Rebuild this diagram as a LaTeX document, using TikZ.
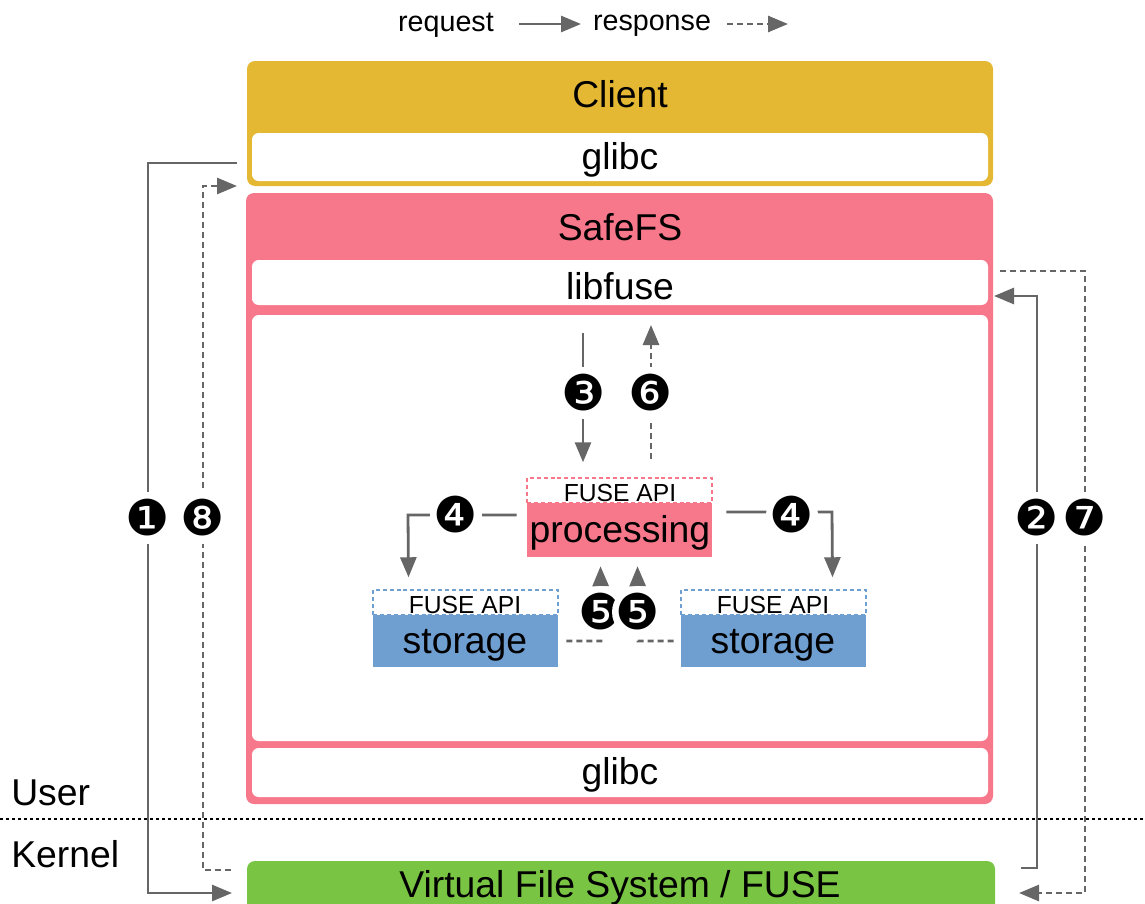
\documentclass[tikz,border=0pt]{standalone}
\usepackage{fontspec}
\setmainfont{Liberation Sans}
\newfontfamily\dingfont{DejaVu Sans}
\usetikzlibrary{arrows.meta,fit,calc}
\definecolor{gold}{HTML}{E4B832}
\definecolor{pinkc}{HTML}{F7788A}
\definecolor{greenc}{HTML}{7AC443}
\definecolor{bluec}{HTML}{6F9ED1}
\definecolor{arrowgray}{HTML}{666666}
\begin{document}
\begin{tikzpicture}[x=0.75pt,y=-0.75pt,
  panel/.style={draw=none, rounded corners=6pt, inner sep=0pt},
  whitebox/.style={panel, fill=white, rounded corners=5pt},
  big/.style={font=\fontsize{28}{32}\selectfont, inner sep=0pt},
  mid/.style={font=\fontsize{21.5}{25}\selectfont, inner sep=0pt},
  small/.style={font=\fontsize{18.5}{21}\selectfont, inner sep=0pt},
  apibox/.style={draw=#1, dash pattern=on 3pt off 2.2pt, line width=1.1pt, fill=white, inner sep=0pt},
  compbox/.style={fill=#1, draw=none, inner sep=0pt},
  req/.style={draw=arrowgray, line width=2.1pt, -{Triangle[length=15pt,width=12pt]}},
  resp/.style={req, dash pattern=on 4.5pt off 3pt},
  num/.style={font=\dingfont\fontsize{37}{40}\selectfont, fill=white, circle, inner sep=-1.5pt, text=black},
]
\useasboundingbox (0,0) rectangle (1145,903);

% legend
\node[mid] (lreq) at (446,25) {request};
\coordinate (lreqa) at (519,24);
\coordinate (lreqb) at (581,24);
\draw[req] (lreqa) -- (lreqb);
\node[mid] (lresp) at (652,26) {response};
\coordinate (lrespa) at (727,24);
\coordinate (lrespb) at (788,24);
\draw[resp] (lrespa) -- (lrespb);

% Client
\node[panel, fill=gold, fit={(247,61)(993,186)}] (client) {};
\node[whitebox, fit={(252,133)(988,181)}] (glibcTop) {};
\node[big] (clientL) at (620,94) {Client};
\node[big] (glibcTopL) at (620,160) {glibc};

% SafeFS
\node[panel, fill=pinkc, fit={(246,193)(993,804)}] (safefs) {};
\node[big] (safefsL) at (620,227) {SafeFS};
\node[whitebox, fit={(252,260)(988,305)}] (libfuse) {};
\node[big] (libfuseL) at (620,286) {libfuse};
\node[whitebox, fit={(252,315)(988,741)}] (inner) {};
\node[whitebox, fit={(252,748)(988,797)}] (glibcBot) {};
\node[big] (glibcBotL) at (620,775) {glibc};

% VFS
\node[panel, fill=greenc, fit={(247,861)(995,950)}] (vfs) {};
\node[big] (vfsL) at (620,888) {Virtual File System / FUSE};

% user / kernel
\coordinate (ukL) at (0,819);
\coordinate (ukR) at (1145,819);
\draw[black, line width=1.1pt, dash pattern=on 2.5pt off 2pt] (ukL) -- (ukR);
\node[big, anchor=west] (user) at (11,793) {User};
\node[big, anchor=west] (kernel) at (11,854) {Kernel};

% processing
\node[apibox=pinkc, fit={(527,478)(712,503)}] (papi) {};
\node[compbox=pinkc, fit={(527,503)(712,557)}] (proc) {};
\node[small] (papiL) at (620,493) {FUSE API};
\node[big] (procL) at (620,533) {processing};

% storage left
\node[apibox=bluec, fit={(373,590)(558,615)}] (sapiL) {};
\node[compbox=bluec, fit={(373,615)(558,667)}] (storL) {};
\node[small] (sapiLL) at (465,605) {FUSE API};
\node[big] (storLL) at (465,645) {storage};

% storage right
\node[apibox=bluec, fit={(681,590)(866,615)}] (sapiR) {};
\node[compbox=bluec, fit={(681,615)(866,667)}] (storR) {};
\node[small] (sapiRL) at (773,605) {FUSE API};
\node[big] (storRL) at (773,645) {storage};

% arrows 1 and 8
\coordinate (s1) at (237,163);
\coordinate (e1) at (232,893);
\draw[req] (s1) -- (148,163) -- (148,893) -- (e1);
\node[num] (n1) at (148,518) {❶};
\coordinate (s8) at (231,870);
\coordinate (e8) at (237,186);
\draw[resp] (s8) -- (203,870) -- (203,186) -- (e8);
\node[num] (n8) at (203,518) {❽};

% arrows 2 and 7
\coordinate (s2) at (1021,868);
\coordinate (e2) at (994,296);
\draw[req] (s2) -- (1037,868) -- (1037,296) -- (e2);
\node[num] (n2) at (1037,518) {❷};
\coordinate (s7) at (1000,271);
\coordinate (e7) at (1019,893);
\draw[resp] (s7) -- (1085,271) -- (1085,893) -- (e7);
\node[num] (n7) at (1085,518) {❼};

% arrows 3 and 6
\coordinate (s3) at (583,333);
\draw[req] (s3) -- ($(papi.north -| s3)+(0,-15)$);
\node[num] (n3) at (584,393) {❸};
\coordinate (e6) at (651,325);
\draw[resp] (papi.north -| e6) ++(0,-18) -- (e6);
\node[num] (n6) at (651,393) {❻};

% arrows 4
\draw[req] ($(proc.west)+(-10,-15)$) -- (408,515) -- ($(sapiL.north)+(-57,-12)$);
\node[num] (n4l) at (456,515) {❹};
\draw[req] ($(proc.east)+(14,-18)$) -- (832,512) -- ($(sapiR.north)+(59,-12)$);
\node[num] (n4r) at (792,515) {❹};

% arrows 5
\draw[resp] ($(storL.east)+(8,0)$) -- (601,641) -- ($(proc.south)+(-19,9)$);
\node[num] (n5l) at (601,612) {❺};
\draw[resp] ($(storR.west)+(-7,0)$) -- (638,641) -- ($(proc.south)+(18,9)$);
\node[num] (n5r) at (638,612) {❺};
\end{tikzpicture}
\end{document}
